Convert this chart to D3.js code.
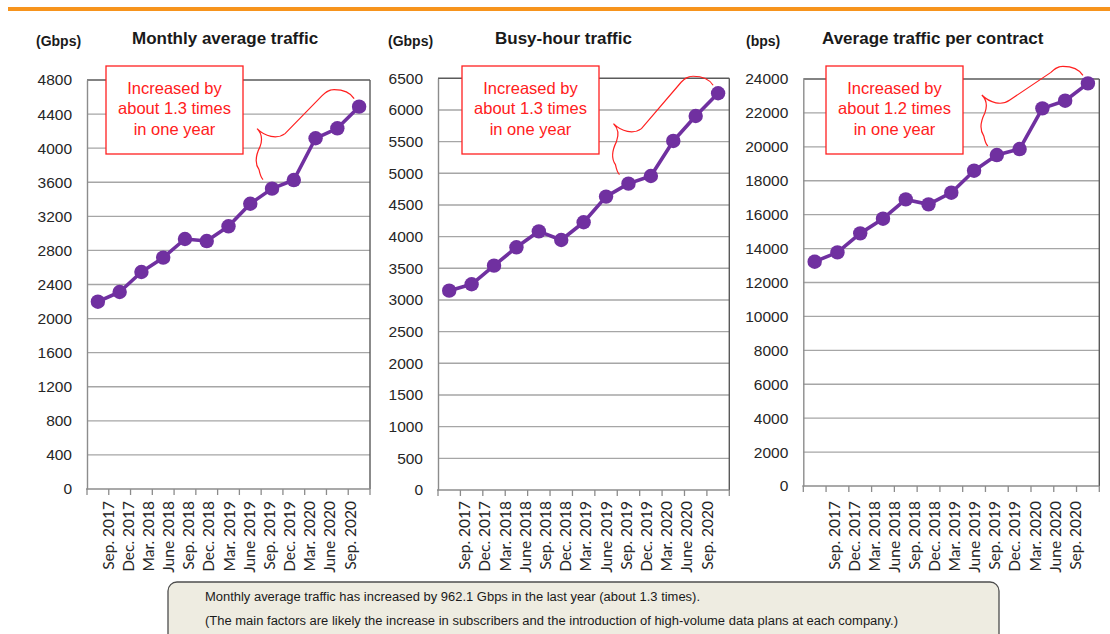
<!DOCTYPE html>
<html>
<head>
<meta charset="utf-8">
<script src="https://cdn.jsdelivr.net/npm/d3@7"></script>
<style>
  html, body { margin: 0; padding: 0; background: #fff; }
  svg { display: block; }
</style>
</head>
<body>
<svg id="chart" width="1110" height="634"></svg>
<script>
// ---------------- DATA ----------------
const categories = ["Sep. 2017","Dec. 2017","Mar. 2018","June 2018","Sep. 2018","Dec. 2018",
  "Mar. 2019","June 2019","Sep. 2019","Dec. 2019","Mar. 2020","June 2020","Sep. 2020"];

const monthlyAverage = [2198, 2312, 2547, 2715, 2934, 2910, 3083, 3348, 3525, 3626, 4116, 4233, 4487];
const busyHour       = [3147, 3248, 3542, 3832, 4084, 3947, 4227, 4632, 4837, 4958, 5511, 5905, 6264];
const perContract    = [13226, 13778, 14897, 15762, 16901, 16607, 17295, 18592, 19516, 19870, 22268, 22720, 23742];

const monthlyTicks  = [0, 400, 800, 1200, 1600, 2000, 2400, 2800, 3200, 3600, 4000, 4400, 4800];
const busyTicks     = [0, 500, 1000, 1500, 2000, 2500, 3000, 3500, 4000, 4500, 5000, 5500, 6000, 6500];
const contractTicks = [0, 2000, 4000, 6000, 8000, 10000, 12000, 14000, 16000, 18000, 20000, 22000, 24000];

const titles = ["Monthly average traffic", "Busy-hour traffic", "Average traffic per contract"];
const units  = ["(Gbps)", "(Gbps)", "(bps)"];
const calloutLines = [
  ["Increased by", "about 1.3 times", "in one year"],
  ["Increased by", "about 1.3 times", "in one year"],
  ["Increased by", "about 1.2 times", "in one year"]
];
const noteLines = [
  "Monthly average traffic has increased by 962.1 Gbps in the last year (about 1.3 times).",
  "(The main factors are likely the increase in subscribers and the introduction of high-volume data plans at each company.)"
];

// ---------------- LAYOUT ----------------
const layout = [
  { x0: 87,    x1: 370,   top: 80,   bottom: 489, lab0: 108,   lab1: 350,  unitX: 36,  titleX: 132, box: [106, 66, 137, 88] },
  { x0: 438,   x1: 729.3, top: 78.3, bottom: 490, lab0: 464.5, lab1: 707,  unitX: 388, titleX: 495, box: [462, 66, 137, 88] },
  { x0: 803.3, x1: 1099.3,top: 79,   bottom: 486, lab0: 834.5, lab1: 1075, unitX: 746, titleX: 822, box: [826, 66, 137, 88] }
];
const seriesList = [monthlyAverage, busyHour, perContract];
const tickList = [monthlyTicks, busyTicks, contractTicks];

const svg = d3.select("#chart");
const PURPLE = "#7030a0";
const RED = "#ff2020";
const GRID = "#a6a6a6";
const FRAME = "#5a5a5a";

// Orange top bar
svg.append("rect").attr("x", 8).attr("y", 7).attr("width", 1102).attr("height", 4).attr("fill", "#f7941d");

layout.forEach((L, ci) => {
  const values = seriesList[ci];
  const ticks = tickList[ci];
  const g = svg.append("g");

  const x = d3.scaleBand().domain(categories).range([L.x0, L.x1]).paddingInner(0).paddingOuter(0);
  const y = d3.scaleLinear().domain([0, ticks[ticks.length - 1]]).range([L.bottom, L.top]);
  const xLab = d3.scalePoint().domain(categories).range([L.lab0, L.lab1]);

  // gridlines
  g.append("g").selectAll("line").data(ticks.slice(1)).join("line")
    .attr("x1", L.x0).attr("x2", L.x1)
    .attr("y1", d => y(d)).attr("y2", d => y(d))
    .attr("stroke", (d, i, arr) => i === arr.length - 1 ? FRAME : GRID)
    .attr("stroke-width", 1.4);

  // right frame
  g.append("line").attr("x1", L.x1).attr("x2", L.x1).attr("y1", L.top).attr("y2", L.bottom)
    .attr("stroke", FRAME).attr("stroke-width", 1.4);

  // y axis
  const yAxis = d3.axisLeft(y).tickValues(ticks).tickSize(0).tickPadding(15).tickFormat(d3.format("d"));
  const ya = g.append("g").attr("transform", `translate(${L.x0},0)`).call(yAxis);
  ya.select(".domain").attr("stroke", "#8c8c8c").attr("stroke-width", 1.4);
  ya.selectAll("text").attr("font-family", "'Liberation Sans', Arial, sans-serif")
    .attr("font-size", 15.5).attr("fill", "#262626");

  // x axis line and band ticks
  g.append("line").attr("x1", L.x0 - 1).attr("x2", L.x1).attr("y1", L.bottom).attr("y2", L.bottom)
    .attr("stroke", "#8c8c8c").attr("stroke-width", 1.4);
  const bounds = categories.map(c => x(c)).concat([x(categories[categories.length - 1]) + x.bandwidth()]);
  g.append("g").selectAll("line").data(bounds).join("line")
    .attr("x1", d => d).attr("x2", d => d).attr("y1", L.bottom).attr("y2", L.bottom + 6)
    .attr("stroke", "#8c8c8c").attr("stroke-width", 1.3);

  // x labels (rotated)
  g.append("g").selectAll("text").data(categories).join("text")
    .attr("transform", d => `translate(${xLab(d)},501) rotate(-90)`)
    .attr("text-anchor", "end").attr("dy", "0.36em")
    .attr("font-family", "Lato, 'Open Sans', sans-serif").attr("font-size", 15.5)
    .attr("fill", "#262626")
    .text(d => d);

  // line + markers
  const line = d3.line().x((d, i) => x(categories[i]) + x.bandwidth() / 2).y(d => y(d));
  g.append("path").datum(values).attr("d", line)
    .attr("fill", "none").attr("stroke", PURPLE).attr("stroke-width", 3.6).attr("stroke-linejoin", "round");
  g.append("g").selectAll("circle").data(values).join("circle")
    .attr("cx", (d, i) => x(categories[i]) + x.bandwidth() / 2)
    .attr("cy", d => y(d)).attr("r", 7.2).attr("fill", PURPLE);

  // unit and title
  g.append("text").attr("x", L.unitX).attr("y", 45.5).text(units[ci])
    .attr("font-family", "'Liberation Sans', Arial, sans-serif").attr("font-weight", "bold")
    .attr("font-size", 14).attr("fill", "#1a1a1a");
  g.append("text").attr("x", L.titleX).attr("y", 43.5).text(titles[ci])
    .attr("font-family", "'Liberation Sans', Arial, sans-serif").attr("font-weight", "bold")
    .attr("font-size", 17).attr("fill", "#1a1a1a");

  // callout box
  const [bx, by, bw, bh] = L.box;
  g.append("rect").attr("x", bx).attr("y", by).attr("width", bw).attr("height", bh)
    .attr("fill", "#fff").attr("stroke", RED).attr("stroke-width", 1.3);
  g.append("g").selectAll("text").data(calloutLines[ci]).join("text")
    .attr("x", bx + bw / 2).attr("y", (d, i) => by + 28 + i * 20.3)
    .attr("text-anchor", "middle").attr("font-family", "'Liberation Sans', Arial, sans-serif")
    .attr("font-size", 16.5).attr("fill", RED).text(d => d);

  // brace from Sep. 2020 point down to Sep. 2019 point
  const n = values.length;
  const pA = [x(categories[n - 1]) + x.bandwidth() / 2, y(values[n - 1])];
  const pB = [x(categories[n - 5]) + x.bandwidth() / 2, y(values[n - 5])];
  const s = [pA[0] - 5, pA[1] - 8];
  const e = [pB[0] - 9, pB[1] - 9];
  const tip = [e[0] - 6, e[1] - 51];
  const pk = [s[0] - 20, s[1] - 9];
  const p = d3.path();
  p.moveTo(s[0], s[1]);
  p.bezierCurveTo(s[0] - 5, s[1] - 8, pk[0] + 6, pk[1], pk[0], pk[1]);
  p.bezierCurveTo(pk[0] - 6, pk[1], pk[0] - 9, pk[1] + 3, pk[0] - 12, pk[1] + 6);
  p.lineTo(tip[0] + 28, tip[1] + 5);
  p.bezierCurveTo(tip[0] + 20, tip[1] + 11, tip[0] + 8, tip[1] + 8, tip[0], tip[1]);
  p.bezierCurveTo(tip[0] + 4, tip[1] + 4, tip[0] + 6, tip[1] + 10, tip[0] + 3, tip[1] + 18);
  p.bezierCurveTo(tip[0] - 1, tip[1] + 26, tip[0] - 3, tip[1] + 34, e[0] - 4, e[1] - 10);
  p.bezierCurveTo(e[0] - 3, e[1] - 5, e[0] - 2, e[1] - 2, e[0], e[1]);
  g.append("path").attr("d", p.toString()).attr("fill", "none").attr("stroke", RED).attr("stroke-width", 1.2);
});

// Note box at the bottom
svg.append("rect").attr("x", 168).attr("y", 582).attr("width", 831).attr("height", 70)
  .attr("rx", 9).attr("ry", 9).attr("fill", "#eeece1").attr("stroke", "#4d4d4d").attr("stroke-width", 1.3);
svg.append("g").selectAll("text").data(noteLines).join("text")
  .attr("x", 205).attr("y", (d, i) => 601 + i * 24)
  .attr("font-family", "'Liberation Sans Narrow', 'Liberation Sans', Arial, sans-serif")
  .attr("font-size", 12).attr("fill", "#1a1a1a")
  .attr("textLength", (d, i) => i === 0 ? 495 : 693).attr("lengthAdjust", "spacingAndGlyphs")
  .text(d => d);
</script>
</body>
</html>
